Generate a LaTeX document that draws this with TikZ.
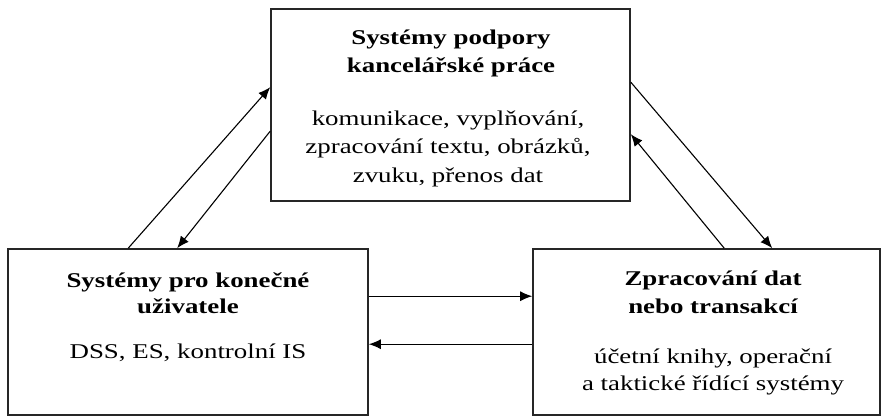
\documentclass[tikz,border=0pt]{standalone}
\usepackage{fontspec}
\setmainfont[FakeStretch=1.28]{Liberation Serif}
\usetikzlibrary{arrows.meta,calc}

\begin{document}
\begin{tikzpicture}[x=1pt,y=-1pt,
  sysbox/.style={draw=black!85, line width=1.6pt, rectangle, inner sep=0pt},
  titleline/.style={anchor=base, inner sep=0pt, font=\fontsize{21}{28}\selectfont\bfseries},
  bodyline/.style={anchor=base, inner sep=0pt, font=\fontsize{21}{28}\selectfont},
  flow/.style={draw=black, line width=1.1pt, -{Latex[length=12pt,width=10pt]}}
]
\useasboundingbox (0,0) rectangle (882,417);

% the three system boxes
\node[sysbox, minimum width=359pt, minimum height=192pt] (office) at (450.5,105) {};
\node[sysbox, minimum width=360pt, minimum height=166pt] (enduser) at (188,332) {};
\node[sysbox, minimum width=347pt, minimum height=166pt] (tps) at (706.5,332) {};

% office support systems
\node[titleline] (officeT1) at (451,45) {Systémy podpory};
\node[titleline] (officeT2) at (451,73) {kancelářské práce};
\node[bodyline] (officeB1) at (448,125) {komunikace, vyplňování,};
\node[bodyline] (officeB2) at (448,153) {zpracování textu, obrázků,};
\node[bodyline] (officeB3) at (448,182) {zvuku, přenos dat};

% end-user systems
\node[titleline] (enduserT1) at (188,287) {Systémy pro konečné};
\node[titleline] (enduserT2) at (188,313) {uživatele};
\node[bodyline] (enduserB1) at (188,358) {DSS, ES, kontrolní IS};

% data / transaction processing
\node[titleline] (tpsT1) at (713,285) {Zpracování dat};
\node[titleline] (tpsT2) at (713,313) {nebo transakcí};
\node[bodyline] (tpsB1) at (713,363) {účetní knihy, operační};
\node[bodyline] (tpsB2) at (713,390) {a taktické řídící systémy};

% attachment points on the box borders
\coordinate (eu-out) at ($(enduser.north west)+(121,0)$);
\coordinate (eu-in)  at ($(enduser.north west)+(170,0)$);
\coordinate (of-inL) at ($(office.north west)+(0,79)$);
\coordinate (of-outL) at ($(office.north west)+(0,123)$);
\coordinate (of-outR) at ($(office.north east)+(0,74)$);
\coordinate (of-inR)  at ($(office.north east)+(0,126)$);
\coordinate (tp-in)  at ($(tps.north west)+(240,0)$);
\coordinate (tp-out) at ($(tps.north west)+(192,0)$);
\coordinate (eu-r1) at ($(enduser.north east)+(0,48)$);
\coordinate (eu-r2) at ($(enduser.north east)+(0,96)$);
\coordinate (tp-l1) at ($(tps.north west)+(0,48)$);
\coordinate (tp-l2) at ($(tps.north west)+(0,96)$);

% connectors
\draw[flow] (eu-out) -- (of-inL);
\draw[flow] (of-outL) -- (eu-in);
\draw[flow] (of-outR) -- (tp-in);
\draw[flow] (tp-out) -- (of-inR);
\draw[flow] (eu-r1) -- (tp-l1);
\draw[flow] (tp-l2) -- (eu-r2);
\end{tikzpicture}
\end{document}
